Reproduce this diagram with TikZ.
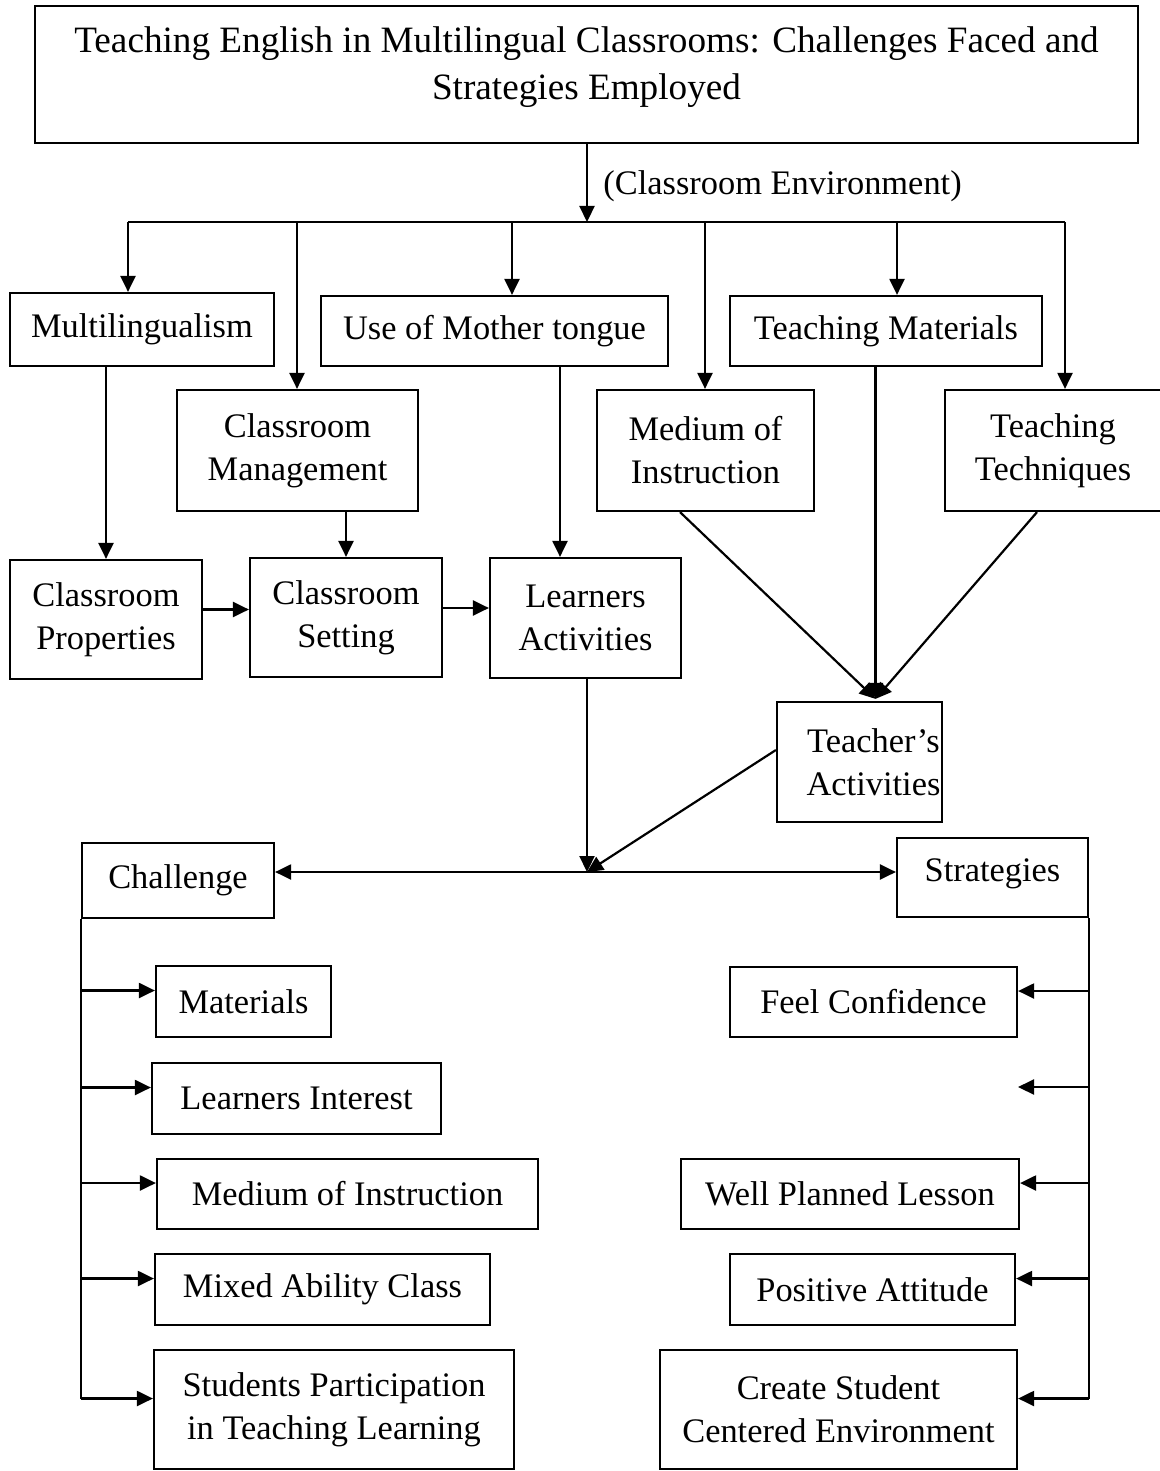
\documentclass[tikz,border=0pt]{standalone}
\usepackage{fontspec}
\setmainfont{Liberation Serif}
\usetikzlibrary{arrows.meta}
\tikzset{
  >={Triangle[length=8pt,width=7.5pt]},
  box/.style={draw,line width=1.1pt,inner sep=0pt,align=center,font=\fontsize{17.2}{21.5}\selectfont},
  link/.style={->,line width=1.1pt},
  wire/.style={line width=1.1pt},
  lbl/.style={font=\fontsize{17.2}{21.5}\selectfont,inner sep=0pt},
}
% box from its corners (x1,y1) to (x2,y2), in pixels of the page
\newcommand{\bx}[7][]{\node[box,minimum width={(#5-#3)*0.5pt},minimum height={(#6-#4)*0.5pt},#1] (#2) at ({(#3+#5)/2},{(#4+#6)/2}) {#7};}

\begin{document}
\begin{tikzpicture}[x=0.5pt,y=-0.5pt]
  \useasboundingbox (0,0) rectangle (1160,1471);
  % title
  \bx[font=\fontsize{18.6}{23.5}\selectfont,text depth=11pt]{title}{35}{6}{1138}{143}{Teaching English in Multilingual Classrooms: Challenges Faced and\\Strategies Employed}
  \coordinate (bar) at (587,222);
  \draw[link] (title.south -| bar) -- (bar);
  \node[lbl,anchor=west] (env) at (603,186) {(Classroom Environment)};

  % first rows
  \bx{multi}{10}{293}{274}{366}{Multilingualism}
  \bx{mother}{321}{296}{668}{366}{Use of Mother tongue}
  \bx{tmat}{730}{296}{1042}{366}{Teaching Materials}
  \bx{mgmt}{177}{390}{418}{511}{Classroom\\Management}
  \bx{moi}{597}{390}{814}{511}{Medium of\\Instruction}
  \bx{tech}{945}{390}{1161}{511}{Teaching\\Techniques}
  \bx{prop}{10}{560}{202}{679}{Classroom\\Properties}
  \bx{setting}{250}{558}{442}{677}{Classroom\\Setting}
  \bx{lact}{490}{558}{681}{678}{Learners\\Activities}
  \bx{tact}{777}{702}{942}{822}{\hspace*{14pt}Teacher’s\\\hspace*{14pt}Activities}

  % branching bar
  \draw[wire] (128,222) -- (1065,222);
  \foreach \x/\n in {128/multi,297/mgmt,512/mother,705/moi,897/tmat,1065/tech}{
    \coordinate (d\n) at (\x,222);
    \draw[link] (d\n) -- (d\n |- \n.north);
  }
  \draw[link] (multi.south -| prop.north) -- (prop.north);
  \draw[link] (mgmt.south -| setting.north) -- (setting.north);
  \coordinate (lactin) at ([xshift=-12.75pt]lact.north);
  \draw[link] (mother.south -| lactin) -- (lactin);
  \draw[link] ([yshift=5pt]prop.east) -- ([yshift=5pt]prop.east -| setting.west);
  \draw[link] ([yshift=4.75pt]setting.east) -- ([yshift=4.75pt]setting.east -| lact.west);

  % into teacher's activities
  \coordinate (tin) at ([xshift=8pt,yshift=1pt]tact.north);
  \draw[link] ([xshift=-12.75pt]moi.south) -- (tin);
  \draw[link] (tmat.south -| tin) -- (tin);
  \draw[link] ([xshift=-8pt]tech.south) -- (tin);

  % challenge / strategies
  \bx{chal}{82}{843}{274}{918}{Challenge}
  \bx[text depth=7pt]{strat}{897}{838}{1088}{917}{Strategies}
  \coordinate (jn) at (587,872);
  \draw[link] (lact.south -| jn) -- (jn);
  \draw[link] ([yshift=6pt]tact.west) -- (jn);
  \draw[link] (jn) -- (chal.east |- jn);
  \draw[link] (jn) -- (strat.west |- jn);

  % challenges
  \bx{cmat}{156}{966}{331}{1037}{Materials}
  \bx{cint}{152}{1063}{441}{1134}{Learners Interest}
  \bx{cmoi}{157}{1159}{538}{1229}{Medium of Instruction}
  \bx{cmix}{155}{1254}{490}{1325}{Mixed Ability Class}
  \bx{cpart}{154}{1350}{514}{1469}{Students Participation\\in Teaching Learning}
  \draw[wire] (chal.south west) -- ([yshift=5.5pt]cpart.west -| chal.west);
  \foreach \n in {cmat,cint,cmoi,cmix,cpart}
    \draw[link] ([yshift=5.5pt]\n.west -| chal.west) -- ([yshift=5.5pt]\n.west);

  % strategies
  \bx{sconf}{730}{967}{1017}{1037}{Feel Confidence}
  \bx{splan}{681}{1159}{1019}{1229}{Well Planned Lesson}
  \bx{satt}{730}{1254}{1015}{1325}{Positive Attitude}
  \bx{senv}{660}{1350}{1017}{1469}{Create Student\\Centered Environment}
  \coordinate (sgap) at (1018,1087);
  \draw[wire] (strat.south east) -- ([yshift=5.5pt]senv.east -| strat.east);
  \foreach \n in {sconf,splan,satt,senv}
    \draw[link] ([yshift=5.5pt]\n.east -| strat.east) -- ([yshift=5.5pt]\n.east);
  \draw[link] (sgap -| strat.east) -- (sgap);
\end{tikzpicture}
\end{document}
